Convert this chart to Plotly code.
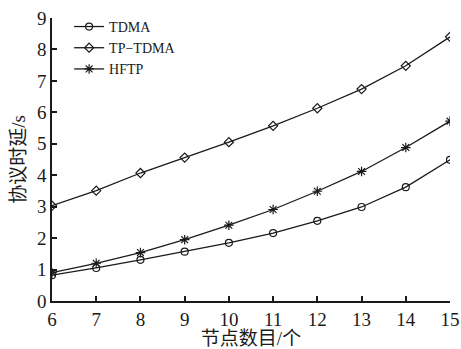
import plotly.graph_objects as go

nodes = [6, 7, 8, 9, 10, 11, 12, 13, 14, 15]
tdma = [0.82, 1.05, 1.31, 1.57, 1.85, 2.16, 2.55, 2.99, 3.62, 4.49]
tp_tdma = [3.03, 3.51, 4.07, 4.56, 5.05, 5.57, 6.13, 6.74, 7.48, 8.40]
hftp = [0.90, 1.20, 1.54, 1.95, 2.41, 2.91, 3.49, 4.12, 4.88, 5.72]

series = [
    ("TDMA", tdma, "circle-open", 7),
    ("TP−TDMA", tp_tdma, "diamond-open", 7),
    ("HFTP", hftp, "asterisk-open", 8),
]

FONT = "Liberation Serif, Times New Roman, Noto Sans CJK SC, serif"

fig = go.Figure()
for name, vals, sym, sz in series:
    fig.add_trace(go.Scatter(
        x=nodes, y=vals, name=name, mode="lines+markers",
        line=dict(color="#1a1a1a", width=1.3),
        marker=dict(symbol=sym, size=sz, color="#1a1a1a",
                    line=dict(width=1.2, color="#1a1a1a")),
    ))

fig.update_layout(
    width=461, height=349,
    margin=dict(l=52, r=11, t=15, b=48),
    paper_bgcolor="white", plot_bgcolor="white",
    font=dict(family=FONT, color="#1a1a1a", size=18),
    showlegend=True,
    legend=dict(x=0.043, y=1.025, xanchor="left", yanchor="top",
                bgcolor="rgba(0,0,0,0)", font=dict(size=14, family=FONT),
                tracegroupgap=0, itemwidth=30),
)
fig.update_xaxes(
    range=[6, 15], dtick=1, tick0=6, showgrid=False, zeroline=False,
    showline=True, linecolor="#1a1a1a", linewidth=1.5, automargin=False,
    ticks="inside", ticklen=5, tickcolor="#1a1a1a", tickwidth=1.5,
    tickfont=dict(size=19, family=FONT),
    title=dict(text="节点数目/个", font=dict(size=19, family=FONT), standoff=9),
)
fig.update_yaxes(
    range=[0, 9], dtick=1, tick0=0, showgrid=False, zeroline=False,
    showline=True, linecolor="#1a1a1a", linewidth=1.5, automargin=False,
    ticks="inside", ticklen=5, tickcolor="#1a1a1a", tickwidth=1.5,
    tickfont=dict(size=19, family=FONT),
    title=dict(text="协议时延/s", font=dict(size=19, family=FONT), standoff=6),
)

fig.write_html("out.html", config={"displayModeBar": False},
               post_script="document.body.style.margin='0';")
